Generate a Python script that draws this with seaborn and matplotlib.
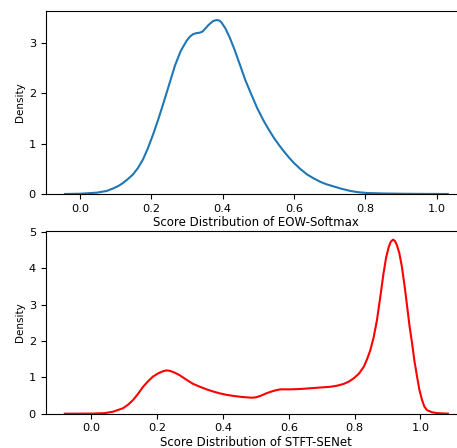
import matplotlib
matplotlib.use("Agg")
import matplotlib.pyplot as plt
import seaborn as sns
import pandas as pd

# EOW-Softmax density curve
eow_x = [-0.042, 0.0, 0.047, 0.075, 0.093, 0.108, 0.121, 0.135, 0.149, 0.163, 0.177, 0.19,
         0.205, 0.219, 0.233, 0.25, 0.266, 0.282, 0.299, 0.308, 0.317, 0.326, 0.336,
         0.343, 0.350, 0.360, 0.373, 0.383, 0.391, 0.397, 0.408, 0.420, 0.434, 0.448,
         0.464, 0.480, 0.497, 0.515, 0.529, 0.543, 0.557, 0.571, 0.585, 0.599, 0.617,
         0.636, 0.655, 0.674, 0.692, 0.711, 0.735, 0.758, 0.78, 0.804, 0.85, 0.9, 0.95, 1.031]
eow_y = [0.0, 0.005, 0.026, 0.06, 0.11, 0.16, 0.22, 0.30, 0.39, 0.52, 0.69, 0.90,
         1.18, 1.47, 1.78, 2.17, 2.54, 2.83, 3.04, 3.12, 3.17, 3.19, 3.20,
         3.22, 3.27, 3.35, 3.43, 3.45, 3.44, 3.40, 3.28, 3.10, 2.85, 2.57,
         2.25, 1.98, 1.70, 1.45, 1.28, 1.12, 0.98, 0.85, 0.73, 0.62, 0.50,
         0.39, 0.31, 0.24, 0.19, 0.15, 0.10, 0.06, 0.035, 0.02, 0.01, 0.005, 0.002, 0.0]

# STFT-SENet density curve
stft_x = [-0.081, 0.0, 0.04, 0.066, 0.096, 0.112, 0.127, 0.142, 0.157, 0.172, 0.187,
          0.203, 0.218, 0.228, 0.238, 0.253, 0.268, 0.288, 0.309, 0.330, 0.350, 0.370,
          0.390, 0.410, 0.431, 0.458, 0.486, 0.500, 0.514, 0.529, 0.544, 0.559, 0.574,
          0.605, 0.636, 0.666, 0.696, 0.726, 0.747, 0.767, 0.782, 0.797, 0.813, 0.828,
          0.838, 0.848, 0.858, 0.868, 0.878, 0.888, 0.896, 0.904, 0.910, 0.917, 0.923,
          0.929, 0.936, 0.944, 0.952, 0.960, 0.967, 0.975, 0.982, 0.990, 0.997, 1.005,
          1.012, 1.020, 1.035, 1.051, 1.084]
stft_y = [0.0, 0.002, 0.015, 0.055, 0.15, 0.25, 0.38, 0.55, 0.74, 0.89, 1.02,
          1.11, 1.17, 1.19, 1.18, 1.13, 1.06, 0.94, 0.82, 0.74, 0.67, 0.61,
          0.56, 0.52, 0.49, 0.46, 0.44, 0.45, 0.49, 0.55, 0.60, 0.64, 0.67,
          0.67, 0.68, 0.70, 0.72, 0.74, 0.77, 0.82, 0.88, 0.97, 1.10, 1.29,
          1.50, 1.75, 2.10, 2.57, 3.20, 3.86, 4.30, 4.59, 4.73, 4.79, 4.75,
          4.63, 4.42, 4.04, 3.52, 2.94, 2.42, 1.93, 1.45, 1.02, 0.66, 0.38,
          0.20, 0.10, 0.04, 0.015, 0.0]

xticks = [0.0, 0.2, 0.4, 0.6, 0.8, 1.0]
labels = ["Score Distribution of EOW-Softmax", "Score Distribution of STFT-SENet"]

plt.rcParams["font.family"] = ["DejaVu Sans"]
plt.rcParams["font.size"] = 8

fig = plt.figure(figsize=(4.57, 4.48), dpi=100)
ax1 = fig.add_axes([0.1, 0.567, 0.922, 0.4085])
ax2 = fig.add_axes([0.1, 0.0766, 0.922, 0.408])

df1 = pd.DataFrame({"x": eow_x, "y": eow_y})
df2 = pd.DataFrame({"x": stft_x, "y": stft_y})

sns.lineplot(data=df1, x="x", y="y", ax=ax1, color="#1f77b4", linewidth=1.5)
sns.lineplot(data=df2, x="x", y="y", ax=ax2, color="red", linewidth=1.5)

ax1.set_xlim(-0.096, 1.085)
ax1.set_ylim(0, 3.63)
ax2.set_xlim(-0.139, 1.142)
ax2.set_ylim(0, 5.03)

for ax, lab in zip([ax1, ax2], labels):
    ax.set_xticks(xticks)
    ax.set_xticklabels([f"{t:.1f}" for t in xticks])
    ax.set_xlabel(lab, fontsize=8.5, labelpad=2)
    ax.set_ylabel("Density", fontsize=7.5, labelpad=2.5)
    ax.tick_params(labelsize=8.2)

ax1.set_yticks([0, 1, 2, 3])
ax2.set_yticks([0, 1, 2, 3, 4, 5])

fig.savefig("out.png", dpi=100)
